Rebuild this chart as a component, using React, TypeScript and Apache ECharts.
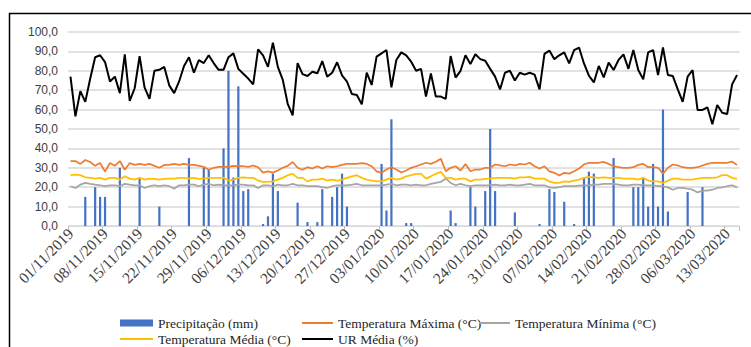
import React, { useEffect, useRef } from "react";
import * as echarts from "echarts";

// Daily categories: 01/11/2019 .. 15/03/2020 (136 days)
const startDate = new Date(2019, 10, 1);
const dayCount = 136;
const dates: string[] = [];
for (let i = 0; i < dayCount; i++) {
  const d = new Date(startDate.getFullYear(), startDate.getMonth(), startDate.getDate() + i);
  const dd = String(d.getDate()).padStart(2, "0");
  const mm = String(d.getMonth() + 1).padStart(2, "0");
  dates.push(`${dd}/${mm}/${d.getFullYear()}`);
}

// Precipitação (mm): day index -> value (others 0)
const precipDays: number[] = [3, 5, 6, 7, 10, 14, 18, 24, 27, 28, 31, 32, 33, 34, 35, 36, 39, 40, 41, 42, 46, 48, 50, 51, 53, 54, 55, 56, 63, 64, 65, 68, 69, 77, 78, 81, 82, 84, 85, 86, 90, 95, 97, 98, 100, 102, 104, 105, 106, 110, 114, 115, 116, 117, 118, 119, 120, 121, 125, 128];
const precipVals: number[] = [15, 20, 15, 15, 30, 25, 10, 35, 30, 29, 40, 80, 25, 72, 18, 19, 1, 5, 27, 18, 12, 2, 2, 19, 15, 20, 27, 10, 32, 8, 55, 1.5, 1.5, 8, 1.5, 20, 10, 18, 50, 18, 7, 1, 19, 17.5, 12.5, 1, 25, 28, 27, 35, 20, 20, 25, 10, 32, 10, 60, 7.5, 17.5, 20];

const tempMax: number[] = [
  33.5, 33.5, 32, 34, 33, 31, 32.5, 28, 32.5, 31, 33.5, 29, 32.5, 31.5, 32, 31.5, 32, 31, 30, 31.5,
  31.5, 32, 31.5, 32, 31.5, 31.5, 31, 30.5, 29, 30, 30.5, 30.5, 30.5, 31, 30.8, 30.8, 30.5, 31.2, 30.3, 27.5,
  28.2, 27.5, 28.6, 30, 31, 33, 30, 29, 30.3, 29.6, 30.8, 29.6, 30.8, 30.3, 30.8, 31.5, 32, 32, 32, 32.4,
  32, 30.8, 28.2, 27.4, 29.1, 30.3, 29.1, 27.6, 28.6, 30, 30.8, 31.7, 32.6, 32, 33.1, 34.7, 28.2, 30, 30.8, 28.6,
  32, 28.2, 29.1, 29.1, 30, 30, 31.7, 31.2, 30.8, 31.7, 31.2, 32, 31.7, 32.6, 30.8, 29.6, 30.8, 28.2, 27.4, 26,
  27.4, 27, 28.2, 29.6, 31.7, 32.6, 32.6, 32.6, 33, 32, 30.8, 30.3, 30, 30, 30.3, 31.5, 32, 30.3, 30.3, 30,
  26.9, 30, 31.7, 31.2, 30.3, 30, 30, 30.3, 31.2, 32, 32.6, 32.6, 32.6, 32.6, 33.2, 31.4
];

const tempMin: number[] = [
  20.5, 19.6, 21.3, 22.2, 21.7, 21.3, 21, 20.5, 21, 21, 20.5, 21.7, 21.3, 21, 21, 19.6, 20.5, 21, 20.5, 21,
  20.5, 19.2, 21, 21, 21.3, 21.3, 20.5, 21.3, 21.7, 21, 21.3, 21, 21, 21, 21.3, 21.3, 21, 21, 19.6, 21,
  21, 20.5, 21.3, 21, 21, 21.7, 21, 21, 20.5, 20.5, 20.5, 20, 19.6, 20.5, 21, 21, 21, 21.3, 21.7, 21,
  21, 21, 21, 21, 21.3, 21.7, 21, 21.3, 21.3, 21, 21.3, 21, 21, 21.7, 22.2, 22.7, 24.5, 22.2, 21, 21.7,
  21, 20.5, 21, 21, 21, 21, 21.3, 21, 21, 21.3, 21, 21, 21.3, 21.7, 21, 21, 21, 19.9, 19.6, 20,
  20.5, 20.5, 20.5, 20.8, 21, 21, 21.3, 21.3, 21.7, 21.7, 21.7, 21.3, 21, 21, 21.3, 21.3, 21, 21, 21, 20.5,
  20.5, 19.9, 18.7, 19.6, 19.6, 19.2, 18.7, 17.3, 18.2, 18.2, 18.7, 19.6, 19.9, 20.5, 21, 19.9
];

const tempMed: number[] = [
  26.2, 26.5, 26.2, 25.1, 24.8, 24.4, 24.8, 23.9, 24.8, 24.8, 23.9, 25.6, 24.4, 23.9, 24.8, 23.9, 24.4, 24.3, 23.9, 24.3,
  24.4, 24.4, 24.8, 24.8, 24.4, 24.8, 24.3, 24.4, 24.8, 24.8, 24.8, 24.8, 23.5, 23.9, 24.8, 25.1, 24.8, 24.8, 23.4, 22.7,
  22.7, 23, 23.9, 24.8, 26.2, 26.9, 24.8, 24.8, 23, 23.9, 23.9, 24.4, 23.4, 23.9, 23.4, 23.9, 24.8, 25.6, 26.2, 24.8,
  23.9, 23.4, 23, 23, 23.9, 24.8, 23.9, 24.4, 25.6, 26.2, 26.9, 26.9, 24.4, 25.6, 26.9, 27.9, 24.8, 24.8, 23.9, 24.4,
  24.4, 23, 23.9, 23.9, 24.3, 24.4, 24.8, 24.8, 24.8, 24.8, 24.4, 25.1, 25.1, 25.3, 24.4, 24.4, 24.4, 23, 22.2, 22.2,
  23, 22.7, 23.4, 23.9, 24.8, 25.3, 25.1, 24.8, 25.1, 24.8, 24.8, 24.8, 24.4, 24.4, 24.4, 23.9, 24.8, 23.4, 23, 23,
  22.2, 23.4, 24.4, 24.4, 23.9, 23.9, 23.9, 24.4, 24.8, 24.8, 24.8, 25.1, 26.2, 26.2, 24.8, 24.3
];

const urMedia: number[] = [
  77, 56.5, 69.5, 64, 76, 87, 88, 84.5, 74.5, 77, 68.5, 88.5, 64.5, 71, 87.5, 71.5, 65.5, 80, 80.5, 82,
  72.5, 68.5, 74.5, 82.5, 87, 79, 85.5, 84, 88, 84, 80.5, 80.5, 87, 89, 81, 78.5, 76, 73, 91, 88,
  82, 94.5, 82, 75.3, 63, 57, 84, 78.3, 77.3, 79.5, 78.7, 85, 77, 79, 84.4, 77.6, 74.4, 68, 67.5, 62.7,
  79, 72.7, 87.3, 89, 90.7, 71.5, 85.6, 89.5, 88, 84.7, 80, 81, 66.7, 78.6, 66.7, 66.7, 65.5, 87.6, 76.5, 80,
  88, 83.5, 88.5, 86, 85.2, 81, 77, 70.4, 79, 80, 75, 79, 78, 79, 78, 70.4, 88.7, 90.4, 86, 88,
  89.5, 83.8, 90.7, 92, 83.8, 77.5, 74, 82.5, 76.6, 84.2, 80.4, 85.6, 88.5, 81, 90.7, 80.4, 75.6, 89.5, 90.7, 77.8,
  92, 77.8, 77.3, 70.4, 64, 77, 80.4, 59.8, 59.8, 61.2, 52.4, 62.4, 58.4, 57.7, 73, 77.8
];

const yTicks = { min: 0, max: 100, interval: 10 };

const precip: number[] = dates.map(() => 0);
precipDays.forEach((d, k) => {
  precip[d] = precipVals[k];
});

const serif = "Times New Roman, Liberation Serif, DejaVu Serif, serif";
const sans = "Liberation Sans, Arial, sans-serif";

export default function App() {
  const ref = useRef<HTMLDivElement>(null);
  useEffect(() => {
    if (!ref.current) return;
    const chart = echarts.init(ref.current, undefined, { renderer: "svg" });
    const legendBase = {
      orient: "horizontal" as const,
      textStyle: { fontFamily: serif, fontSize: 13.5, color: "#262626" },
      itemGap: 0,
      padding: 0,
      selectedMode: false,
    };
    chart.setOption({
      animation: false,
      backgroundColor: "#ffffff",
      grid: { left: 68, right: 11.5, top: 32, bottom: 121, containLabel: false },
      graphic: [
        {
          type: "rect",
          shape: { x: 9.5, y: 13.5, width: 760, height: 400 },
          style: { fill: "none", stroke: "#000000", lineWidth: 1.5 },
          silent: true,
        },
      ],
      legend: [
        { ...legendBase, left: 120, top: 316, itemWidth: 33, itemHeight: 7, data: [{ name: "Precipitação (mm)", icon: "rect" }] },
        { ...legendBase, left: 302, top: 316, itemWidth: 31, itemHeight: 2, data: [{ name: "Temperatura Máxima (°C)", icon: "rect" }] },
        { ...legendBase, left: 479, top: 316, itemWidth: 31, itemHeight: 2, data: [{ name: "Temperatura Mínima (°C)", icon: "rect" }] },
        { ...legendBase, left: 120, top: 332, itemWidth: 33, itemHeight: 2, data: [{ name: "Temperatura Média (°C)", icon: "rect" }] },
        { ...legendBase, left: 302, top: 332, itemWidth: 31, itemHeight: 2, data: [{ name: "UR Média (%)", icon: "rect" }] },
      ],
      xAxis: {
        type: "category",
        data: dates,
        boundaryGap: true,
        axisLine: { lineStyle: { color: "#d9d9d9", width: 1 } },
        axisTick: { show: true, interval: 6, length: 5, lineStyle: { color: "#bfbfbf" } },
        axisLabel: {
          interval: 6,
          rotate: 45,
          fontFamily: serif,
          fontSize: 15.5,
          color: "#404040",
          margin: 5,
        },
        splitLine: { show: false },
      },
      yAxis: {
        type: "value",
        min: yTicks.min,
        max: yTicks.max,
        interval: yTicks.interval,
        axisLine: { show: false },
        axisTick: { show: false },
        axisLabel: {
          fontFamily: sans,
          fontSize: 12,
          color: "#404040",
          margin: 10,
          formatter: (v: number) => v.toFixed(1).replace(".", ","),
        },
        splitLine: { lineStyle: { color: "#d9d9d9", width: 1.5 } },
      },
      series: [
        {
          name: "Precipitação (mm)",
          type: "bar",
          data: precip,
          barWidth: 2.2,
          itemStyle: { color: "#4472C4" },
        },
        {
          name: "Temperatura Máxima (°C)",
          type: "line",
          data: tempMax,
          symbol: "none",
          lineStyle: { color: "#ED7D31", width: 1.75 },
          itemStyle: { color: "#ED7D31" },
        },
        {
          name: "Temperatura Mínima (°C)",
          type: "line",
          data: tempMin,
          symbol: "none",
          lineStyle: { color: "#A5A5A5", width: 1.75 },
          itemStyle: { color: "#A5A5A5" },
        },
        {
          name: "Temperatura Média (°C)",
          type: "line",
          data: tempMed,
          symbol: "none",
          lineStyle: { color: "#FFC000", width: 1.75 },
          itemStyle: { color: "#FFC000" },
        },
        {
          name: "UR Média (%)",
          type: "line",
          data: urMedia,
          symbol: "none",
          lineStyle: { color: "#000000", width: 2 },
          itemStyle: { color: "#000000" },
        },
      ],
    });
    return () => chart.dispose();
  }, []);
  return (
    <div
      ref={ref}
      style={{ position: "fixed", left: 0, top: 0, width: 751, height: 347, background: "#fff" }}
    />
  );
}
